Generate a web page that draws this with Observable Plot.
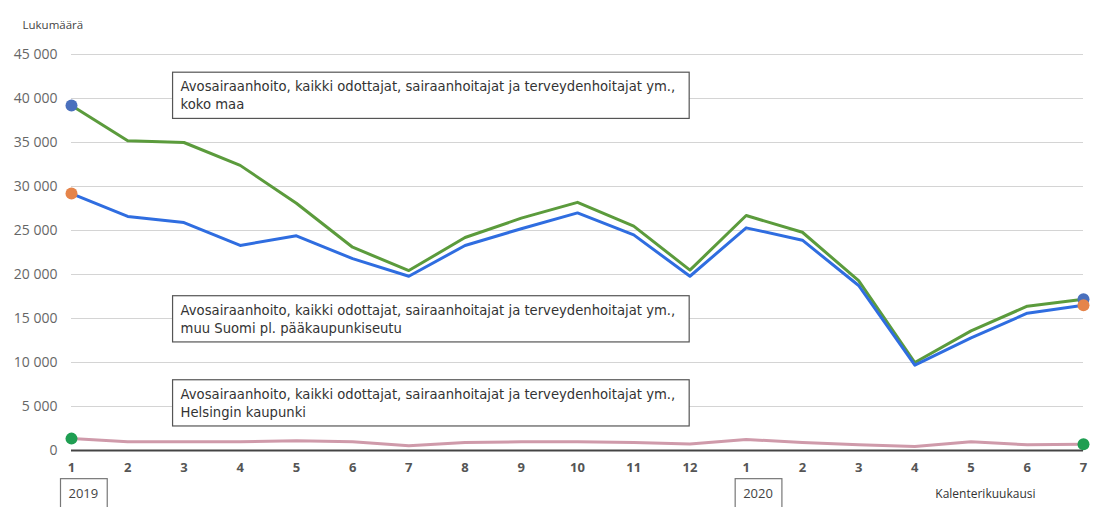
<!DOCTYPE html>
<html><head><meta charset="utf-8">
<script src="https://cdn.jsdelivr.net/npm/d3@7"></script>
<script src="https://cdn.jsdelivr.net/npm/@observablehq/plot@0.6"></script>
<style>body{margin:0;background:#fff} svg{display:block}</style>
</head><body><div id="chart"></div>
<script>
const monthLabels = ["1","2","3","4","5","6","7","8","9","10","11","12","1","2","3","4","5","6","7"];
const years = [{label: "2019", index: 0}, {label: "2020", index: 12}];
const yTicks = [0, 5000, 10000, 15000, 20000, 25000, 30000, 35000, 40000, 45000];

// koko maa (green line)
const kokoMaa = [39200, 35200, 35000, 32400, 28100, 23100, 20450, 24200, 26400, 28200, 25500, 20500, 26700, 24800, 19300, 10000, 13600, 16400, 17200];
// muu Suomi pl. pääkaupunkiseutu (blue line)
const muuSuomi = [29200, 26600, 25900, 23300, 24400, 21800, 19800, 23300, 25200, 27000, 24500, 19800, 25300, 23900, 18750, 9700, 12800, 15600, 16500];
// Helsingin kaupunki (pink line)
const helsinki = [1350, 1000, 1000, 1000, 1100, 1000, 550, 900, 1000, 1000, 900, 750, 1250, 900, 650, 450, 1000, 650, 700];

const annotations = [
  {text: "Avosairaanhoito, kaikki odottajat, sairaanhoitajat ja terveydenhoitajat ym.,\nkoko maa", x: 1.94, y: 42300},
  {text: "Avosairaanhoito, kaikki odottajat, sairaanhoitajat ja terveydenhoitajat ym.,\nmuu Suomi pl. pääkaupunkiseutu", x: 1.94, y: 16900},
  {text: "Avosairaanhoito, kaikki odottajat, sairaanhoitajat ja terveydenhoitajat ym.,\nHelsingin kaupunki", x: 1.94, y: 7350}
];

const toRows = (vals) => vals.map((v, i) => ({i, v}));
const ends = (vals) => [{i: 0, v: vals[0]}, {i: vals.length - 1, v: vals[vals.length - 1]}];
const fmt = d => d3.format(",")(d).replace(/,/g, " ");

const plot = Plot.plot({
  width: 1099, height: 507,
  marginLeft: 71, marginRight: 16, marginTop: 54, marginBottom: 57,
  style: {fontFamily: "'Open Sans', sans-serif", background: "#fff"},
  x: {domain: [0, 18]},
  y: {domain: [0, 45000]},
  marks: [
    Plot.gridY(yTicks.slice(1), {stroke: "#d4d4d4", strokeOpacity: 1}),
    Plot.axisY(yTicks, {tickFormat: fmt, tickSize: 0, tickPadding: 14, fontSize: 14, fill: "#666", label: null}),
    Plot.axisX(d3.range(monthLabels.length), {tickFormat: i => monthLabels[i], tickSize: 0, tickPadding: 12, fontSize: 13, fontWeight: "bold", fill: "#555", label: null}),
    Plot.ruleY([0], {stroke: "#444", strokeWidth: 2}),
    Plot.line(toRows(helsinki), {x: "i", y: "v", stroke: "#cf9aaa", strokeWidth: 3}),
    Plot.line(toRows(kokoMaa), {x: "i", y: "v", stroke: "#5b9b3c", strokeWidth: 3}),
    Plot.line(toRows(muuSuomi), {x: "i", y: "v", stroke: "#2f6de0", strokeWidth: 3}),
    Plot.dot(ends(kokoMaa), {x: "i", y: "v", r: 6, fill: "#4a70bd"}),
    Plot.dot(ends(muuSuomi), {x: "i", y: "v", r: 6, fill: "#e5844a"}),
    Plot.dot(ends(helsinki), {x: "i", y: "v", r: 6, fill: "#1f9e52"}),
    Plot.text(annotations, {x: "x", y: "y", text: "text", textAnchor: "start", lineAnchor: "top", lineHeight: 1.38, fontSize: 13.2, fontFamily: "DejaVu Sans", fill: "#333"}),
    Plot.text(years, {x: "index", y: () => 0, text: "label", textAnchor: "start", dx: -3, dy: 43, fontSize: 13, fill: "#444"}),
    Plot.text(["Kalenterikuukausi"], {frameAnchor: "bottom-right", textAnchor: "end", dx: -48, dy: 47, fontSize: 12, fill: "#333"}),
    Plot.text(["Lukumäärä"], {frameAnchor: "top-left", textAnchor: "start", dx: -49, dy: -34, fontSize: 11.5, fill: "#444"})
  ]
});
document.getElementById("chart").append(plot);

// draw framed boxes behind annotation and year labels
const annTexts = new Set(annotations.map(a => a.text.replace(/\n/g, "")));
const yearTexts = new Set(years.map(y => y.label));
d3.select(plot).selectAll("g[aria-label='text'] text").each(function() {
  const t = this.textContent;
  let pad = null, stroke = null;
  if (annTexts.has(t)) { pad = [8, 14, 7, 6]; stroke = "#555"; }
  else if (yearTexts.has(t)) { pad = [8, 9, 5, 6]; stroke = "#777"; }
  if (!pad) return;
  const b = this.getBBox();
  const rect = document.createElementNS("http://www.w3.org/2000/svg", "rect");
  this.parentNode.insertBefore(rect, this);
  const tr = this.getAttribute("transform");
  d3.select(rect)
    .attr("transform", tr)
    .attr("x", b.x - pad[0]).attr("y", b.y - pad[2])
    .attr("width", b.width + pad[0] + pad[1]).attr("height", b.height + pad[2] + pad[3])
    .attr("fill", "#fff").attr("stroke", stroke).attr("stroke-width", 1.2);
});
</script>
</body></html>
